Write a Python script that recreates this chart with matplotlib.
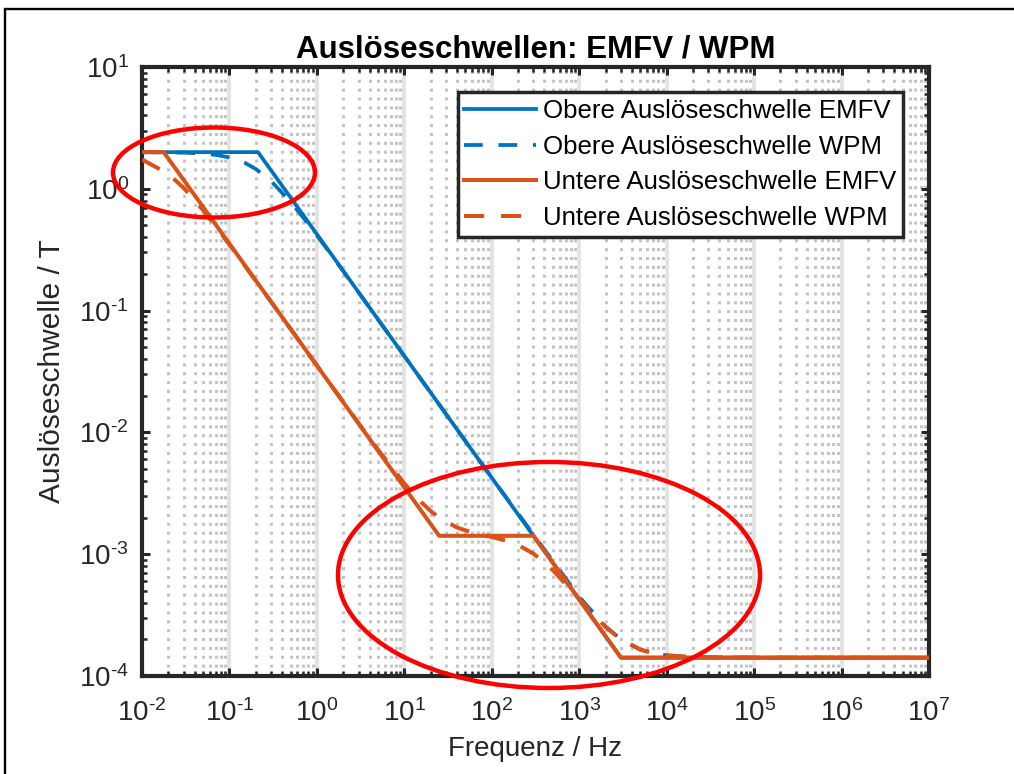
import matplotlib
matplotlib.use("Agg")
import matplotlib.pyplot as plt
from matplotlib.patches import Ellipse, Rectangle
from matplotlib.ticker import LogLocator, FuncFormatter, NullFormatter
import math

plt.rcParams['font.family'] = ['Liberation Sans', 'DejaVu Sans']
plt.rcParams['mathtext.fontset'] = 'custom'
plt.rcParams['mathtext.rm'] = 'Liberation Sans'
plt.rcParams['axes.unicode_minus'] = False

# ---------------- data ----------------
title = "Auslöseschwellen: EMFV / WPM"
xlabel = "Frequenz / Hz"
ylabel = "Auslöseschwelle / T"
labels = ["Obere Auslöseschwelle EMFV", "Obere Auslöseschwelle WPM",
          "Untere Auslöseschwelle EMFV", "Untere Auslöseschwelle WPM"]

# Obere Auslöseschwelle EMFV (piecewise)
f_upper_emfv = [0.01, 0.212, 3000, 1e7]
b_upper_emfv = [2.0, 2.0, 1.4133e-4, 1.4133e-4]

# Obere Auslöseschwelle WPM (smooth)
f_upper_wpm = [0.01, 0.03, 0.05, 0.07, 0.1, 0.15, 0.2, 0.3, 0.5, 0.7, 1, 2, 10, 100,
               1000, 2000, 3000, 5000, 7000, 1e4, 2e4, 1e5, 1e7]
b_upper_wpm = [1.998, 1.980, 1.947, 1.899, 1.809, 1.633, 1.455, 1.154, 0.7807, 0.5797,
               0.4148, 0.2108, 0.04239, 0.00424, 4.469e-4, 2.548e-4, 1.999e-4,
               1.648e-4, 1.538e-4, 1.4756e-4, 1.4291e-4, 1.4135e-4, 1.4133e-4]

# Untere Auslöseschwelle EMFV (piecewise)
f_lower_emfv = [0.01, 0.0177, 25, 300, 3000, 1e7]
b_lower_emfv = [2.0, 2.0, 1.416e-3, 1.416e-3, 1.416e-4, 1.416e-4]

# Untere Auslöseschwelle WPM (smooth)
f_lower_wpm = [0.01, 0.02, 0.03, 0.05, 0.1, 0.3, 1, 3, 5, 10, 15, 20, 25, 40, 60, 100,
               150, 200, 300, 500, 1000, 2000, 3000, 5000, 7000, 1e4, 2e4, 1e5, 1e7]
b_lower_wpm = [1.741, 1.3255, 1.0163, 0.6674, 0.3486, 0.11779, 0.03543, 0.011885,
               0.00722, 0.003810, 0.002749, 0.002262, 0.0019956, 0.0016552, 0.0015042,
               0.0013847, 0.0012840, 0.0011900, 0.0010098, 7.395e-4, 4.290e-4,
               2.525e-4, 1.993e-4, 1.648e-4, 1.539e-4, 1.4776e-4, 1.43e-4, 1.4162e-4,
               1.416e-4]

BLUE = "#0072BD"
ORANGE = "#D95319"

W, H = 1014, 774
fig = plt.figure(figsize=(W / 100, H / 100), dpi=100)
ax_l, ax_r, ax_t, ax_b = 142, 929, 67, 676
ax = fig.add_axes([ax_l / W, 1 - ax_b / H, (ax_r - ax_l) / W, (ax_b - ax_t) / H])

ax.set_xscale('log')
ax.set_yscale('log')
ax.set_xlim(1e-2, 1e7)
ax.set_ylim(1e-4, 1e1)

dash = (5.0, 4.2)
ax.plot(f_upper_emfv, b_upper_emfv, color=BLUE, lw=2.7, label=labels[0], zorder=3)
ax.plot(f_upper_wpm, b_upper_wpm, color=BLUE, lw=2.7, dashes=dash, label=labels[1], zorder=3)
ax.plot(f_lower_emfv, b_lower_emfv, color=ORANGE, lw=2.9, label=labels[2], zorder=3)
ax.plot(f_lower_wpm, b_lower_wpm, color=ORANGE, lw=2.9, dashes=dash, label=labels[3], zorder=3)


def pow10_label(v, pos):
    e = int(round(math.log10(v)))
    if e < 0:
        return r'$\mathdefault{10^{\text{-}%d}}$' % (-e)
    return r'$\mathdefault{10^{%d}}$' % e


# ticks
ax.xaxis.set_major_locator(LogLocator(base=10, numticks=20))
ax.yaxis.set_major_locator(LogLocator(base=10, numticks=20))
ax.xaxis.set_minor_locator(LogLocator(base=10, subs=range(2, 10), numticks=100))
ax.yaxis.set_minor_locator(LogLocator(base=10, subs=range(2, 10), numticks=100))
ax.xaxis.set_major_formatter(FuncFormatter(pow10_label))
ax.yaxis.set_major_formatter(FuncFormatter(pow10_label))
ax.xaxis.set_minor_formatter(NullFormatter())
ax.yaxis.set_minor_formatter(NullFormatter())
ax.tick_params(which='both', direction='in', top=True, right=True, color='#262626')
ax.tick_params(which='major', length=6, width=2.2, labelsize=20, labelcolor='#262626')
ax.tick_params(axis='x', which='major', pad=17)
ax.tick_params(axis='y', which='major', pad=9.5)
ax.tick_params(which='minor', length=3.5, width=1.8)

for s in ax.spines.values():
    s.set_linewidth(3.0)
    s.set_color('#262626')

# grid (vertical only)
ax.grid(which='major', axis='x', color='#e2e2e2', lw=2.6, zorder=0)
ax.grid(which='minor', axis='x', color='#c4c4c4', lw=2.2, linestyle=(0, (1, 1.9)), zorder=0)
ax.set_axisbelow(True)

ax.set_title(title, fontsize=22.5, fontweight='bold', pad=7, color='black')
ax.set_xlabel(xlabel, fontsize=20, color='#262626')
ax.set_ylabel(ylabel, fontsize=21.5, color='#262626')
ax.xaxis.set_label_coords(0.5, -0.099)
ax.yaxis.set_label_coords(-0.097, 0.5)

leg = ax.legend(loc='upper right', bbox_to_anchor=((903 - ax_l) / (ax_r - ax_l), (ax_b - 92) / (ax_b - ax_t)),
                borderaxespad=0, fontsize=18.6, fancybox=False, framealpha=1,
                edgecolor='#262626', handlelength=2.76, handletextpad=0.27,
                labelspacing=0.45, borderpad=0.27)
leg.get_frame().set_linewidth(2.5)
leg.set_zorder(5)

# red annotation ellipses (figure pixel coords)
def add_ellipse(cx, cy, w, h):
    e = Ellipse((cx / W, 1 - cy / H), w / W, h / H, transform=fig.transFigure,
                fill=False, ec='#ff0000', lw=3.2, zorder=10)
    fig.patches.append(e)

add_ellipse(214, 172.5, 202, 90)
add_ellipse(549, 575, 422, 226)

# outer figure border
fig.patches.append(Rectangle((5 / W, -0.1), 1.2, 1.1 - 9 / H, transform=fig.transFigure,
                             fill=False, ec='black', lw=1.7, zorder=20))

fig.savefig("out.png", dpi=100)
